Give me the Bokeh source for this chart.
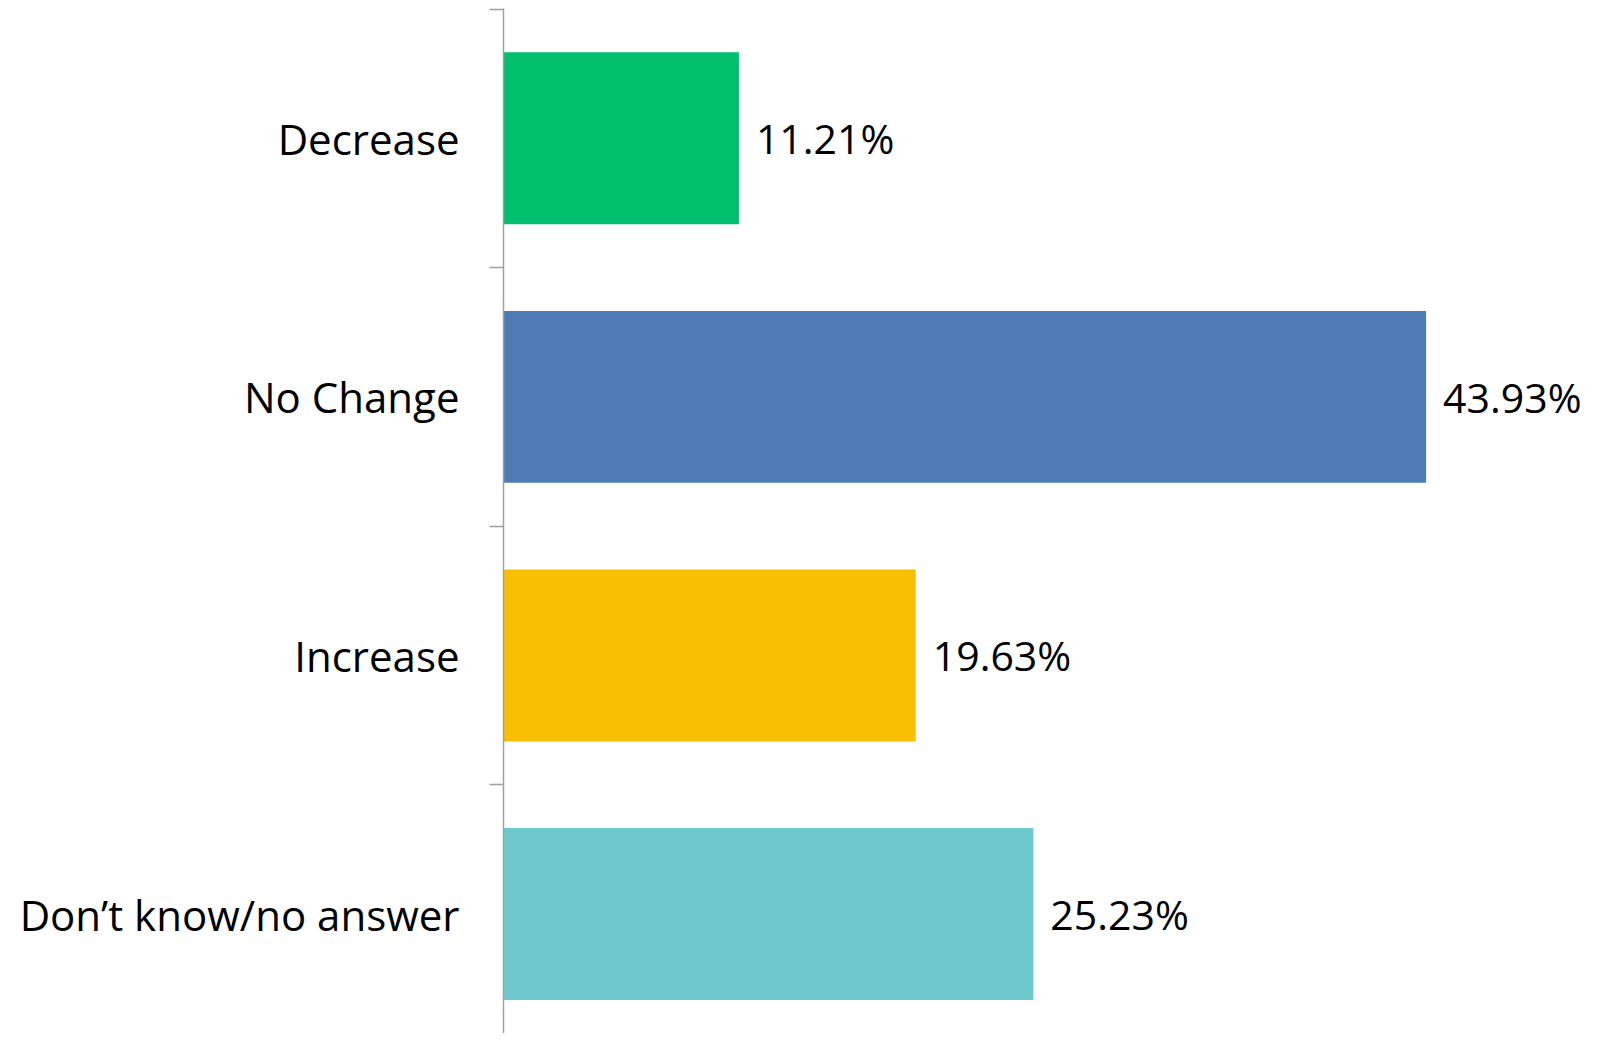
from bokeh.plotting import figure
from bokeh.models import ColumnDataSource, Range1d, FixedTicker
from bokeh.embed import file_html
from bokeh.resources import INLINE
from bokeh.core.properties import value

categories = ["Decrease", "No Change", "Increase", "Don\u2019t know/no answer"]
values = [11.21, 43.93, 19.63, 25.23]
colors = ["#00BF6F", "#4F7BB4", "#F8BF00", "#6CC8CC"]
labels = [f"{v:.2f}%" for v in values]

ypos = [-i for i in range(len(categories))]
src = ColumnDataSource(dict(y=ypos, v=values, c=colors, lab=labels, cat=categories))

p = figure(width=1581, height=1033, output_backend="svg", toolbar_location=None,
           x_range=Range1d(0, 51.33), y_range=Range1d(-3.462, 0.502),
           min_border_left=503, min_border_right=0, min_border_top=8, min_border_bottom=0)
p.outline_line_color = None
p.grid.visible = False
p.xaxis.visible = False
p.background_fill_color = "white"
p.border_fill_color = "white"

p.hbar(y="y", right="v", left=0, height=0.665, fill_color="c", line_color=None, source=src)
p.text(x="v", y="y", text="lab", source=src, x_offset=17, text_baseline="middle",
       text_align="left", text_font=value("Open Sans"), text_font_size="41px", text_color="#000000")

bounds = [y + 0.5 for y in ypos] + [ypos[-1] - 0.5]
ya = p.yaxis[0]
ya.ticker = FixedTicker(ticks=ypos, minor_ticks=bounds)
ya.major_label_overrides = {y: c for y, c in zip(ypos, categories)}
ya.major_tick_out = 0
ya.major_tick_in = 0
ya.minor_tick_out = 14
ya.minor_tick_in = 0
ya.minor_tick_line_color = "#A0A0A0"
ya.minor_tick_line_width = 1.5
ya.axis_line_color = "#A0A0A0"
ya.axis_line_width = 1.5
ya.major_label_standoff = 30
ya.major_label_text_font = "Open Sans"
ya.major_label_text_font_size = "42px"
ya.major_label_text_color = "#000000"

open("out.html", "w").write(file_html(p, INLINE))
